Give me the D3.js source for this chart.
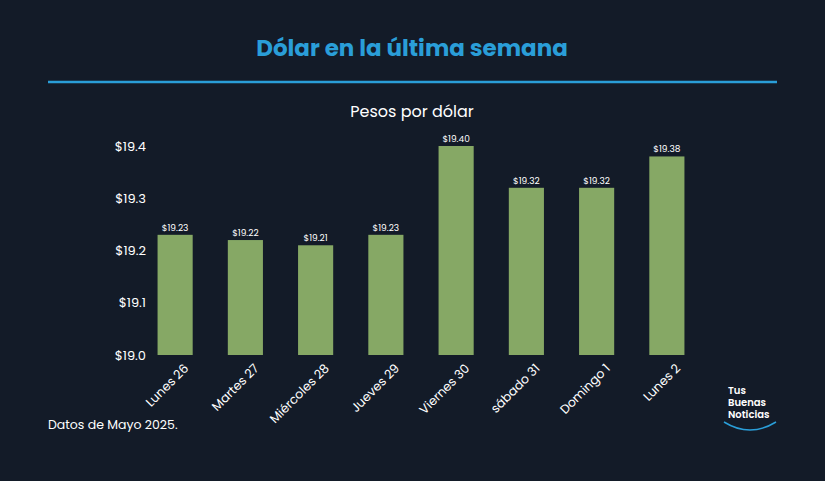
<!DOCTYPE html><html><head><meta charset="utf-8"><script src="https://cdn.jsdelivr.net/npm/d3@7"></script>
<style>body{margin:0;background:#131b28}</style></head><body><svg width="825" height="481"></svg><script>
const categories=["Lunes 26","Martes 27","Miércoles 28","Jueves 29","Viernes 30","sábado 31","Domingo 1","Lunes 2"];
const values=[19.23,19.22,19.21,19.23,19.40,19.32,19.32,19.38];
const yTicks=[19.0,19.1,19.2,19.3,19.4];
const svg=d3.select("svg");const F="Poppins, 'Open Sans', sans-serif";
svg.append("rect").attr("width",825).attr("height",481).attr("fill","#131b28");
svg.append("text").attr("x",412).attr("y",56).attr("text-anchor","middle").attr("font-family",F).attr("font-weight",700).attr("font-size",23).attr("fill","#2a9ed8").text("Dólar en la última semana");
svg.append("line").attr("x1",48).attr("x2",777).attr("y1",82).attr("y2",82).attr("stroke","#2a9ed8").attr("stroke-width",2.5);
svg.append("text").attr("x",412).attr("y",117).attr("text-anchor","middle").attr("font-family",F).attr("font-size",16).attr("fill","#fff").text("Pesos por dólar");
const x=d3.scaleBand().domain(categories).range([140,702]).paddingInner(0.5).paddingOuter(0.25);
const y=d3.scaleLinear().domain([19.0,19.4]).range([355,146]);
const ya=svg.append("g").attr("transform","translate(150,0)").call(d3.axisLeft(y).tickValues(yTicks).tickFormat(d=>"$"+d.toFixed(1)).tickSize(0).tickPadding(4));
ya.select(".domain").remove();ya.selectAll("text").attr("fill","#fff").attr("font-family",F).attr("font-size",13);
svg.selectAll(".bar").data(values).join("rect").attr("x",(d,i)=>x(categories[i])).attr("width",x.bandwidth()).attr("y",d=>y(d)).attr("height",d=>355-y(d)).attr("fill","#86a865");
svg.selectAll(".lbl").data(values).join("text").attr("x",(d,i)=>x(categories[i])+x.bandwidth()/2).attr("y",d=>y(d)-4).attr("text-anchor","middle").attr("font-family",F).attr("font-size",9).attr("fill","#fff").text(d=>"$"+d.toFixed(2));
const xa=svg.append("g").attr("transform","translate(0,355)").call(d3.axisBottom(x).tickSize(0).tickPadding(0));
xa.select(".domain").remove();
xa.selectAll("text").attr("fill","#fff").attr("font-family",F).attr("font-size",12.5).attr("text-anchor","end").attr("transform","translate(8,8) rotate(-45)").attr("dy","0.7em");
svg.append("text").attr("x",48).attr("y",429).attr("font-family",F).attr("font-size",12.5).attr("fill","#fff").text("Datos de Mayo 2025.");
const lg=svg.append("g").attr("font-family",F).attr("font-size",10).attr("fill","#fff").attr("font-weight",600);
["Tus","Buenas","Noticias"].forEach((t,i)=>lg.append("text").attr("x",728).attr("y",394+i*12).text(t));
svg.append("path").attr("d","M724,422 Q750,438 776,422").attr("fill","none").attr("stroke","#2a9ed8").attr("stroke-width",1.5);
</script></body></html>
